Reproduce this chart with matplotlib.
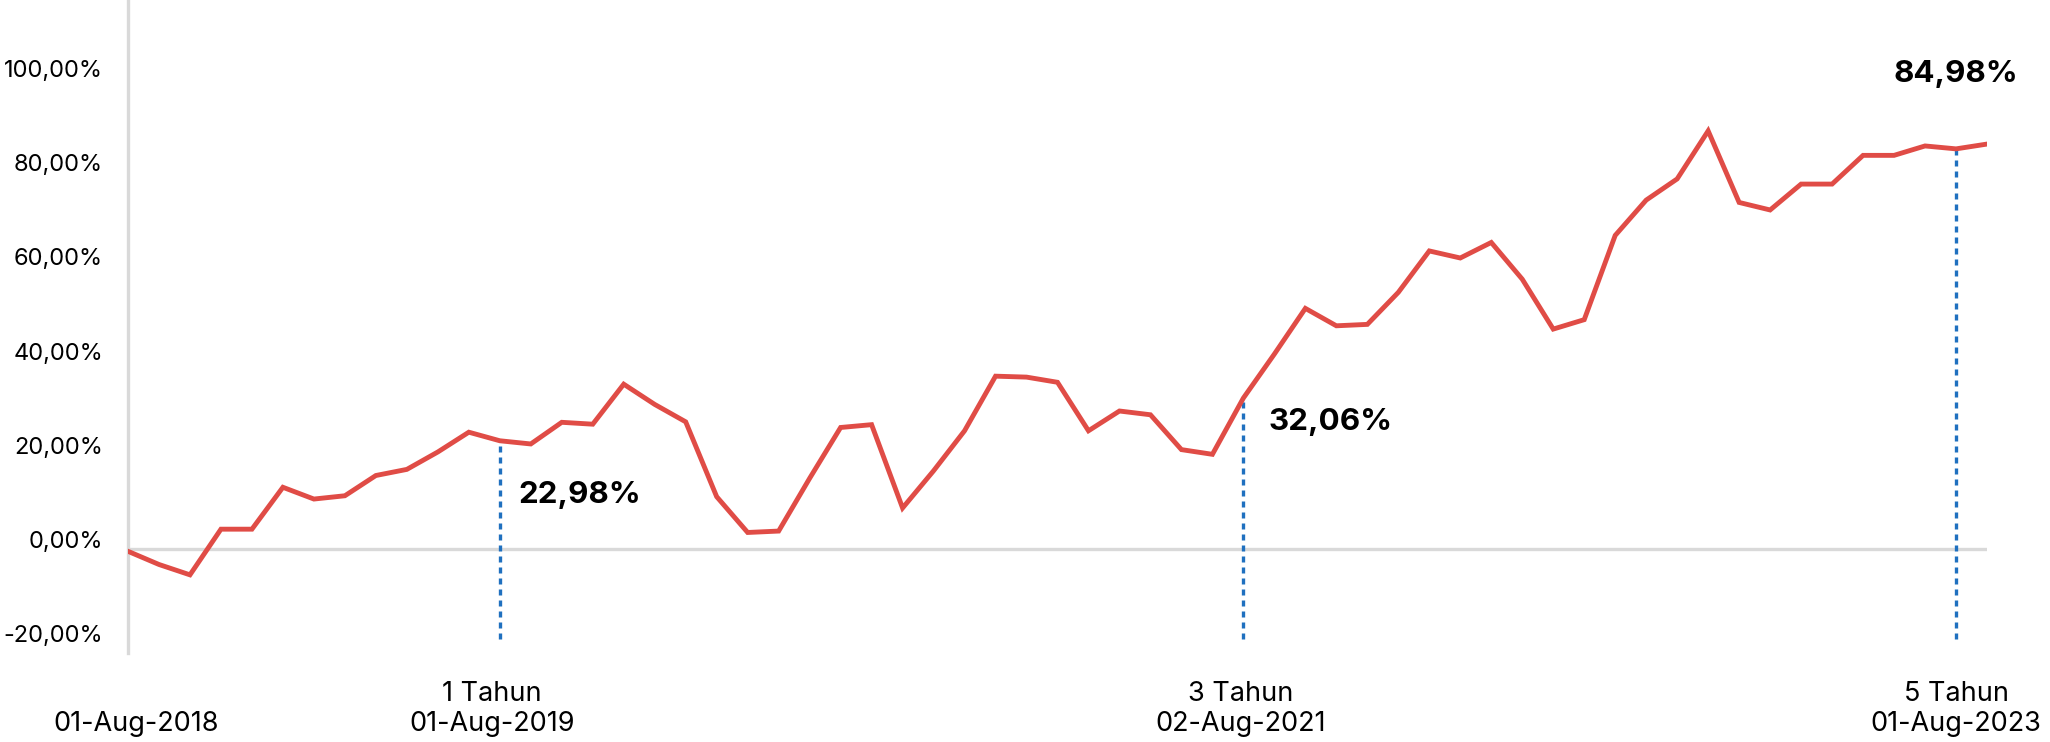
import matplotlib
matplotlib.use("Agg")
import matplotlib.pyplot as plt
from matplotlib.transforms import offset_copy

plt.rcParams["font.family"] = ["Inter", "DejaVu Sans"]

# cumulative return, monthly from 01-Aug-2018 (%)
returns = [-0.5, -3.3, -5.5, 4.2, 4.2, 13.1, 10.6, 11.3, 15.6, 16.9,
           20.6, 24.8, 22.98, 22.3, 26.9, 26.5, 35.0, 30.7, 27.0, 11.1,
           3.5, 3.8, 15.0, 25.8, 26.4, 8.7, 16.6, 25.1, 36.7, 36.5,
           35.4, 25.1, 29.3, 28.5, 21.1, 20.1, 32.06, 41.4, 51.1, 47.4,
           47.7, 54.5, 63.3, 61.8, 65.1, 57.3, 46.7, 48.7, 66.6, 74.1,
           78.6, 88.8, 73.6, 72.0, 77.5, 77.5, 83.6, 83.6, 85.6, 84.98,
           86.0]

# milestone markers (month index) and their labels
mark_idx = [12, 36, 59]
mark_text = ["22,98%", "32,06%", "84,98%"]
mark_label_pos = [(12.6, 11.4, "left"), (36.8, 27.0, "left"), (59.0, 100.9, "center")]

xtick_idx = [0, 12, 36, 59]
xtick_labels = ["\n01-Aug-2018", "1 Tahun\n01-Aug-2019",
                "3 Tahun\n02-Aug-2021", "5 Tahun\n01-Aug-2023"]
ytick_vals = [-20, 0, 20, 40, 60, 80, 100]
ytick_labels = ["-20,00%", "0,00%", "20,00%", "40,00%", "60,00%", "80,00%", "100,00%"]

RED = "#e04c46"
BLUE = "#1f70bf"
GREY = "#d9d9d9"

fig = plt.figure(figsize=(20.5, 7.42), dpi=100)
ax = fig.add_axes([128 / 2050, 89 / 742, (1987 - 128) / 2050, 653 / 742])

x = list(range(len(returns)))
ax.axhline(0, color=GREY, lw=2.4, zorder=1)
for i in mark_idx:
    ax.vlines(i, -19.2, returns[i], color=BLUE, lw=2.4,
              linestyle=(0, (1.8, 1.5)), zorder=2)
ax.plot(x, returns, color=RED, lw=3.5, zorder=3, solid_joinstyle="miter")

for (tx, ty, ha), t in zip(mark_label_pos, mark_text):
    ax.text(tx, ty, t, ha=ha, va="center", fontsize=22.6, fontweight="bold")

ax.set_xlim(0, 60)
ax.set_ylim(-22.1, 116.6)
ax.set_xticks(xtick_idx)
ax.set_xticklabels(xtick_labels, fontsize=19.5, linespacing=1.2)
ax.set_yticks(ytick_vals)
ax.set_yticklabels(ytick_labels, fontsize=17)
ax.tick_params(axis="both", length=0)
ax.tick_params(axis="y", pad=18)
ax.tick_params(axis="x", pad=20)
for lab in ax.get_yticklabels():
    lab.set_transform(offset_copy(lab.get_transform(), fig=fig, y=9.5, units="dots"))
# small horizontal nudges of the date labels, as in the original
for lab, dx in zip(ax.get_xticklabels(), [8, -8, -3, 0]):
    lab.set_transform(offset_copy(lab.get_transform(), fig=fig, x=dx, units="dots"))

for s in ["top", "right", "bottom"]:
    ax.spines[s].set_visible(False)
ax.spines["left"].set_color(GREY)
ax.spines["left"].set_linewidth(2.4)

fig.savefig("out.png", dpi=100)
